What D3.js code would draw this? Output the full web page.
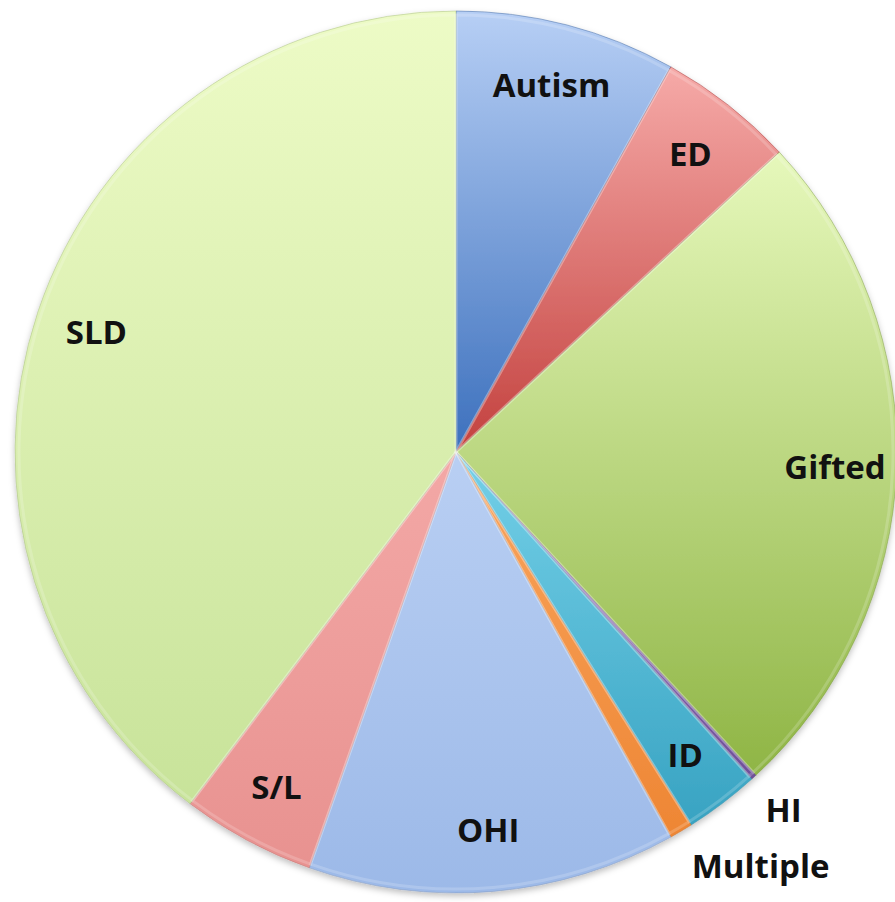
<!DOCTYPE html>
<html>
<head>
<meta charset="utf-8">
<script src="https://cdn.jsdelivr.net/npm/d3@7"></script>
<style>
  html, body { margin: 0; padding: 0; background: #fff; }
  text { font-family: "Open Sans", "Noto Sans", sans-serif; font-weight: 700; }
</style>
</head>
<body>
<div id="chart"></div>
<script>
// Categories and shares (percent), clockwise from 12 o'clock
const categories = ['Autism', 'ED', 'Gifted', 'HI', 'ID', 'Multiple', 'OHI', 'S/L', 'SLD']
const shares = [8.1, 5.0, 25.0, 0.2, 2.75, 0.85, 13.5, 4.9, 39.7]

// top / bottom colours of each slice's gradient
const topColors = ['#b7cff5', '#f6aaa8', '#e6f8bb', '#9a7cc0', '#74d0e8', '#f9a55e', '#b9cff3', '#f3a8a6', '#edfbc6']
const bottomColors = ['#3c70bd', '#c3413e', '#8fb545', '#6e4f98', '#38a3c2', '#ee8634', '#9cb9e8', '#e89290', '#c8e39a']

const width = 895
const height = 902
const cx = 456
const cy = 452
const radius = 441

const data = categories.map((c, i) => ({ name: c, value: shares[i], i }))

const svg = d3.select('#chart')
  .append('svg')
  .attr('width', width)
  .attr('height', height)

const defs = svg.append('defs')

// soft shadow under the pie
const shadow = defs.append('filter')
  .attr('id', 'shadow')
  .attr('x', '-10%').attr('y', '-10%')
  .attr('width', '120%').attr('height', '120%')
shadow.append('feDropShadow')
  .attr('dx', 0).attr('dy', 3)
  .attr('stdDeviation', 3)
  .attr('flood-color', '#000')
  .attr('flood-opacity', 0.25)

data.forEach((d, i) => {
  const grad = defs.append('linearGradient')
    .attr('id', 'grad' + i)
    .attr('x1', 0).attr('y1', 0)
    .attr('x2', 0).attr('y2', 1)
  grad.append('stop').attr('offset', '0%').attr('stop-color', topColors[i])
  grad.append('stop').attr('offset', '100%').attr('stop-color', bottomColors[i])
})

const pie = d3.pie()
  .sort(null)
  .value((d) => d.value)

const arcs = pie(data)

const arc = d3.arc().innerRadius(0).outerRadius(radius)
const labelArc = d3.arc().innerRadius(radius * 0.86).outerRadius(radius * 0.86)

const g = svg.append('g')
  .attr('transform', `translate(${cx},${cy})`)

const slices = g.append('g').attr('filter', 'url(#shadow)')

slices.selectAll('path')
  .data(arcs)
  .enter()
  .append('path')
  .attr('d', arc)
  .attr('fill', (d) => `url(#grad${d.index})`)
  .attr('stroke', (d) => d3.color(bottomColors[d.index]).darker(0.6))
  .attr('stroke-opacity', 0.45)
  .attr('stroke-width', 1)

// thin bevel highlight just inside each slice
slices.selectAll('path.bevel')
  .data(arcs)
  .enter()
  .append('path')
  .attr('class', 'bevel')
  .attr('d', d3.arc().innerRadius(0).outerRadius(radius - 4))
  .attr('fill', 'none')
  .attr('stroke', '#fff')
  .attr('stroke-opacity', 0.18)
  .attr('stroke-width', 3)

// labels: large slices inside near the rim, tiny slices outside
const small = (d) => d.endAngle - d.startAngle < 0.07

g.selectAll('text.inside')
  .data(arcs.filter((d) => !small(d)))
  .enter()
  .append('text')
  .attr('class', 'inside')
  .attr('transform', (d) => `translate(${labelArc.centroid(d)})`)
  .attr('text-anchor', 'middle')
  .attr('dominant-baseline', 'central')
  .attr('font-size', 33)
  .attr('fill', '#111')
  .text((d) => d.data.name)

const outside = arcs.filter(small)
const outArc = d3.arc().innerRadius(radius * 1.1).outerRadius(radius * 1.1)
const first = outArc.centroid(outside[0])

g.selectAll('text.outside')
  .data(outside)
  .enter()
  .append('text')
  .attr('class', 'outside')
  .attr('x', (d, i) => first[0] - i * 23)
  .attr('y', (d, i) => first[1] + i * 56)
  .attr('text-anchor', 'middle')
  .attr('dominant-baseline', 'central')
  .attr('font-size', 33)
  .attr('fill', '#111')
  .text((d) => d.data.name)
</script>
</body>
</html>
